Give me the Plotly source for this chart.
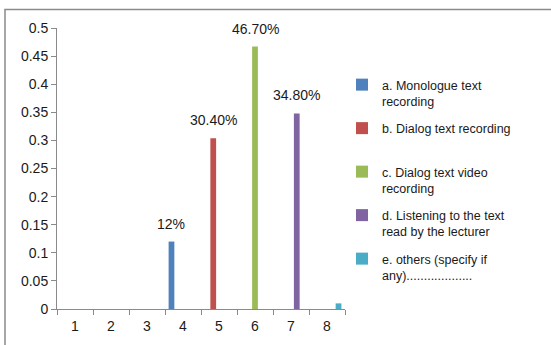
import plotly.graph_objects as go

categories = ["1", "2", "3", "4", "5", "6", "7", "8"]
series_names = [
    "a. Monologue text<br>recording",
    "b. Dialog text recording<br> ",
    "c. Dialog text video<br>recording",
    "d. Listening to the text<br>read by the lecturer",
    "e. others (specify if<br>any)...................",
]
series_category = ["4", "5", "6", "7", "8"]
series_values = [0.12, 0.304, 0.467, 0.348, 0.01]
series_labels = ["12%", "30.40%", "46.70%", "34.80%", ""]
colors = ["#4f81bd", "#c0504d", "#9bbb59", "#8064a2", "#4bacc6"]

W, H = 551, 345
L, R, T, B = 57, 206, 28, 36
pw, ph = W - L - R, H - T - B
BARGAP = 0.2
n = len(series_names)
slot = (1 - BARGAP) / n

fig = go.Figure()
annotations = []
for i, (name, cat, val, lab, col) in enumerate(zip(series_names, series_category, series_values, series_labels, colors)):
    ys = [val if c == cat else None for c in categories]
    fig.add_trace(go.Bar(
        x=categories, y=ys, name=name, marker=dict(color=col, line=dict(width=0)),
        legendgroup=name,
    ))
    if lab:
        annotations.append(dict(
            x=categories.index(cat) - (1 - BARGAP) / 2 + slot * (i + 0.5), y=val,
            xref="x", yref="y", text=lab, showarrow=False, yanchor="bottom", yshift=8,
            font=dict(family="Liberation Sans", size=14, color="#1a1a1a"),
        ))

fig.update_layout(
    width=W, height=H,
    margin=dict(l=L, r=R, t=T, b=B),
    paper_bgcolor="white", plot_bgcolor="white",
    barmode="group", bargap=BARGAP, bargroupgap=0,
    font=dict(family="Liberation Sans", size=14, color="#1a1a1a"),
    annotations=annotations,
    legend=dict(
        x=(342 - L) / pw, y=(309 - 70) / ph, xanchor="left", yanchor="top",
        font=dict(family="Liberation Sans", size=12.5, color="#1a1a1a"),
        valign="top", tracegroupgap=8, itemwidth=30,
        bgcolor="rgba(0,0,0,0)",
    ),
    xaxis=dict(
        type="category", showline=True, linecolor="#8a8a8a", linewidth=1,
        ticks="outside", tickson="boundaries", ticklen=5, tickcolor="#8a8a8a",
        showgrid=False, zeroline=False, ticklabelstandoff=4,
    ),
    yaxis=dict(
        range=[0, 0.5], dtick=0.05, showline=True, linecolor="#8a8a8a", linewidth=1,
        ticks="outside", ticklen=5, tickcolor="#8a8a8a", showgrid=False, zeroline=False,
    ),
    shapes=[dict(
        type="rect", xref="paper", yref="paper",
        x0=(5 - L) / pw, x1=(570 - L) / pw, y0=(309 - 360) / ph, y1=(309 - 9.5) / ph,
        line=dict(color="#8a8a8a", width=1.5), fillcolor="rgba(0,0,0,0)", layer="below",
    )],
)

fig.write_html("out.html")
